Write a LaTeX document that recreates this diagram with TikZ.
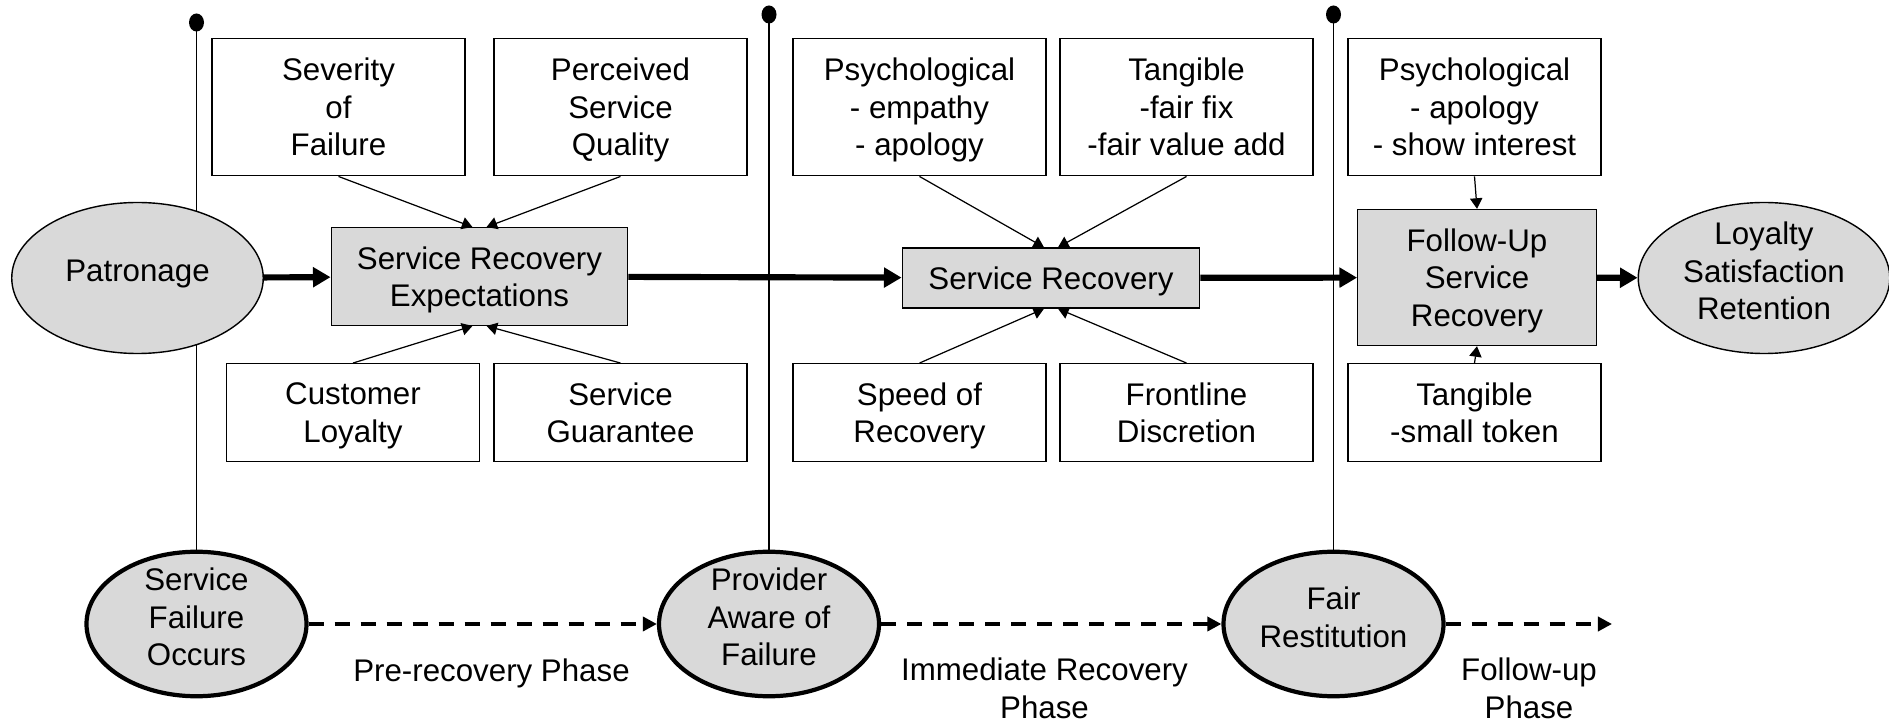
\documentclass[tikz,border=0pt]{standalone}
\usepackage{fontspec}
\setmainfont{Liberation Sans}
\usetikzlibrary{
  arrows.meta,
  backgrounds,
  positioning,
  shapes.geometric
}
\definecolor{boxgray}{RGB}{217,217,217}

\begin{document}
\begin{tikzpicture}[
    font=\fontsize{17.8}{21.3}\selectfont,
    boxtext/.style={align=center, text depth=0pt},
    ovaltext/.style={align=center, text depth=8pt},
    factor/.style={boxtext, draw, line width=0.8pt, inner sep=0pt,
      minimum width=5.06cm, minimum height=2.75cm},
    factorlow/.style={factor, minimum height=1.95cm},
    stage/.style={boxtext, draw, line width=0.8pt, fill=boxgray, inner sep=0pt},
    outcome/.style={ellipse, ovaltext, draw, line width=0.8pt, fill=boxgray,
      inner xsep=0pt, inner ysep=-11pt, minimum width=5.03cm, minimum height=3.02cm},
    event/.style={ellipse, ovaltext, draw, line width=2.4pt, fill=boxgray,
      inner xsep=0pt, inner ysep=-11pt, minimum width=4.4cm, minimum height=2.89cm},
    milestone/.style={ellipse, fill, inner sep=0pt, minimum width=0.3cm, minimum height=0.36cm},
    flow/.style={-{Triangle[length=10pt,width=11pt]}, line width=3.5pt},
    feed/.style={-{Triangle[length=6pt,width=7pt]}, line width=0.7pt},
    phase/.style={-{Triangle[length=8pt,width=8pt]}, line width=2.3pt,
      dash pattern=on 8.6pt off 6.2pt}
  ]
  \useasboundingbox (0,0) rectangle (37.78,14.43);

  % main chain
  \node[outcome] (Patronage) at (2.75, 8.87) {Patronage};
  \node[stage, minimum width=5.93cm, minimum height=1.95cm] (SRExp) at (9.59, 8.90)
    {Service Recovery\\Expectations};
  \node[stage, minimum width=5.95cm, minimum height=1.2cm] (SRec) at (21.02, 8.87)
    {Service Recovery};
  \node[stage, minimum width=4.77cm, minimum height=2.72cm] (FollowUp) at (29.54, 8.88)
    {Follow-Up\\Service\\Recovery};
  \node[outcome] (Loyalty) at (35.28, 8.87) {Loyalty\\Satisfaction\\Retention};

  % influencing factors
  \node[factor] (Severity) at (6.77, 12.29) {Severity\\of\\Failure};
  \node[factor] (PerceivedSQ) at (12.41, 12.29) {Perceived\\Service\\Quality};
  \node[factor] (PsychA) at (18.39, 12.29) {Psychological\\- empathy\\- apology};
  \node[factor] (TangibleA) at (23.73, 12.29) {Tangible\\-fair fix\\-fair value add};
  \node[factor] (PsychB) at (29.49, 12.29) {Psychological\\- apology\\- show interest};
  \node[factorlow] (CustLoyalty) at (7.06, 6.18) {Customer\\Loyalty};
  \node[factorlow] (SGuarantee) at (12.41, 6.18) {Service\\Guarantee};
  \node[factorlow] (Speed) at (18.39, 6.18) {Speed of\\Recovery};
  \node[factorlow] (Frontline) at (23.73, 6.18) {Frontline\\Discretion};
  \node[factorlow] (TangibleB) at (29.49, 6.18) {Tangible\\-small token};

  % timeline
  \node[event] (SFailure) at (3.93, 1.95) {Service\\Failure\\Occurs};
  \node[event] (PAware) at (15.38, 1.95) {Provider\\Aware of\\Failure};
  \node[event] (FairRest) at (26.67, 1.95) {Fair\\Restitution};
  \coordinate (PhaseEnd) at (32.24, 1.95);
  \node[boxtext] (PrePhase) at (9.83, 1.02) {Pre-recovery Phase};
  \node[boxtext] (ImmPhase) at (20.89, 0.67) {Immediate Recovery\\Phase};
  \node[boxtext] (FolPhase) at (30.58, 0.67) {Follow-up\\Phase};

  \node[milestone] (DotA) at (3.93, 13.98) {};
  \node[milestone] (DotB) at (15.38, 14.14) {};
  \node[milestone] (DotC) at (26.67, 14.14) {};

  \begin{scope}[on background layer]
    \draw[line width=0.8pt] (DotA.center) -- (SFailure.north);
    \draw[line width=0.8pt] (DotB.center) -- (PAware.north);
    \draw[line width=0.8pt] (DotC.center) -- (FairRest.north);
  \end{scope}

  \draw[flow] (Patronage) -- (SRExp);
  \draw[flow] (SRExp) -- (SRec);
  \draw[flow] (SRec) -- (FollowUp);
  \draw[flow] (FollowUp) -- (Loyalty);

  \draw[feed] (Severity.south) -- ([xshift=-4pt]SRExp.north);
  \draw[feed] (PerceivedSQ.south) -- ([xshift=4pt]SRExp.north);
  \draw[feed] (CustLoyalty.north) -- ([xshift=-4pt]SRExp.south);
  \draw[feed] (SGuarantee.north) -- ([xshift=4pt]SRExp.south);
  \draw[feed] (PsychA.south) -- ([xshift=-4pt]SRec.north);
  \draw[feed] (TangibleA.south) -- ([xshift=4pt]SRec.north);
  \draw[feed] (Speed.north) -- ([xshift=-4pt]SRec.south);
  \draw[feed] (Frontline.north) -- ([xshift=4pt]SRec.south);
  \draw[feed] (PsychB.south) -- (FollowUp.north);
  \draw[feed] (TangibleB.north) -- (FollowUp.south);

  \draw[phase] (SFailure) -- (PAware);
  \draw[phase] (PAware) -- (FairRest);
  \draw[phase] (FairRest) -- (PhaseEnd);
\end{tikzpicture}
\end{document}
